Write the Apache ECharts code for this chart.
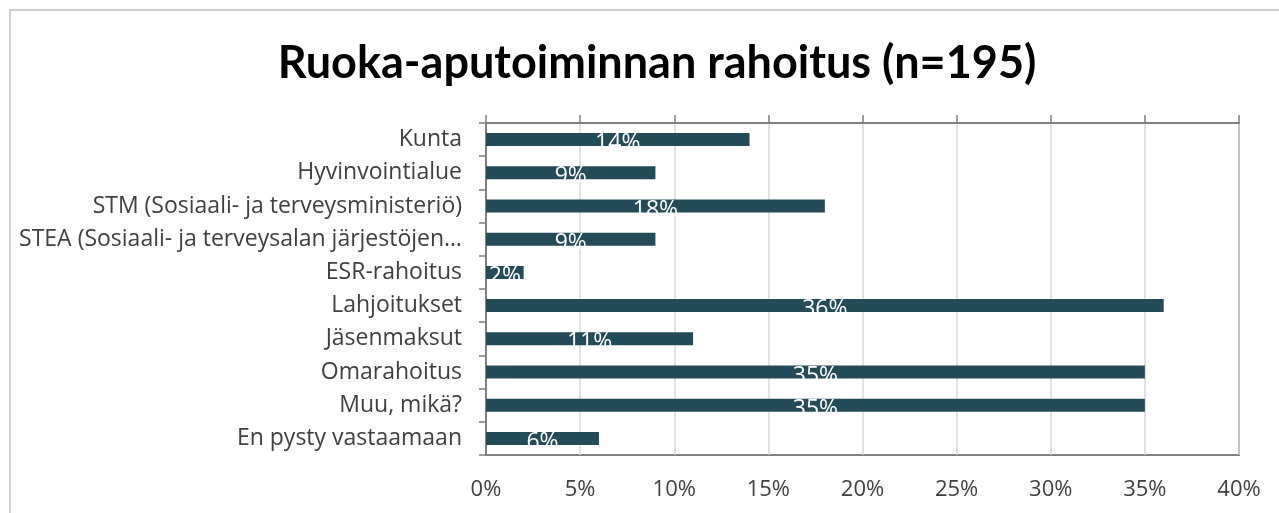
<!DOCTYPE html>
<html>
<head>
<meta charset="utf-8">
<script src="https://cdn.jsdelivr.net/npm/echarts@6/dist/echarts.min.js"></script>
<style>
  html, body { margin: 0; padding: 0; background: #fff; }
  #chart { width: 1279px; height: 513px; }
</style>
</head>
<body>
<div id="chart"></div>
<script>
// rahoituslähteet
const categories = [
  'Kunta',
  'Hyvinvointialue',
  'STM (Sosiaali- ja terveysministeriö)',
  'STEA (Sosiaali- ja terveysalan järjestöjen…',
  'ESR-rahoitus',
  'Lahjoitukset',
  'Jäsenmaksut',
  'Omarahoitus',
  'Muu, mikä?',
  'En pysty vastaamaan'
];
// osuudet prosentteina
const shares = [14, 9, 18, 9, 2, 36, 11, 35, 35, 6];
const xTicks = [0, 5, 10, 15, 20, 25, 30, 35, 40];

const chart = echarts.init(document.getElementById('chart'));

const titleFont = 'Lato, sans-serif';
const font = '"Open Sans", sans-serif';

const option = {
  animation: false,
  title: {
    text: 'Ruoka-aputoiminnan rahoitus (n=195)',
    left: 652,
    top: 36,
    textAlign: 'center',
    textStyle: { fontFamily: titleFont, fontWeight: 'bold', fontSize: 45, color: '#000' }
  },
  graphic: [
    {
      type: 'rect',
      shape: { x: 10, y: 10, width: 1300, height: 600 },
      style: { fill: 'none', stroke: '#bfbfbf', lineWidth: 1.5 },
      silent: true
    }
  ],
  grid: {
    left: 486,
    right: 40,
    top: 123,
    bottom: 58,
    show: true,
    borderColor: '#808080',
    borderWidth: 2
  },
  xAxis: [
    {
      type: 'value',
      position: 'bottom',
      min: xTicks[0],
      max: xTicks[xTicks.length - 1],
      interval: 5,
      axisLine: { show: false },
      axisTick: { show: false },
      axisLabel: {
        formatter: '{value}%',
        fontFamily: font,
        fontSize: 22,
        color: '#404040',
        margin: 24
      },
      splitLine: { show: true, lineStyle: { color: '#d9d9d9', width: 1.5 } }
    },
    {
      type: 'value',
      position: 'top',
      min: xTicks[0],
      max: xTicks[xTicks.length - 1],
      interval: 5,
      axisLine: { show: true, lineStyle: { color: '#808080', width: 2 } },
      axisTick: { show: true, length: 8, lineStyle: { color: '#808080', width: 1.5 } },
      axisLabel: { show: false },
      splitLine: { show: false }
    }
  ],
  yAxis: {
    type: 'category',
    data: categories,
    inverse: true,
    axisLine: { show: true, lineStyle: { color: '#808080', width: 2 } },
    axisTick: { show: true, length: 7, lineStyle: { color: '#808080', width: 1.5 } },
    axisLabel: {
      fontFamily: font,
      fontSize: 23,
      color: '#404040',
      margin: 24
    }
  },
  series: [
    {
      type: 'bar',
      data: shares,
      barWidth: 13,
      itemStyle: { color: '#244b58' },
      label: {
        show: true,
        position: 'inside',
        offset: [0, 4],
        formatter: '{c}%',
        fontFamily: font,
        fontSize: 23,
        color: '#fff'
      }
    }
  ]
};

chart.setOption(option);
</script>
</body>
</html>
